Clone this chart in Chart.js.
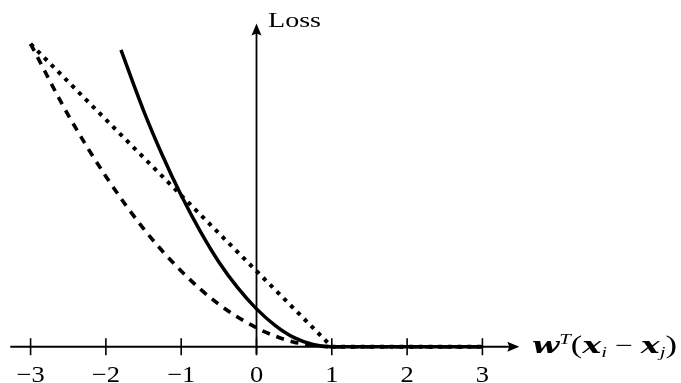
<!DOCTYPE html>
<html><head><meta charset="utf-8">
<script src="https://cdn.jsdelivr.net/npm/chart.js@4"></script>
<style>html,body{margin:0;padding:0;background:#fff;}#wrap{width:681px;height:383px;position:relative}</style>
</head><body><div id="wrap"><canvas id="c"></canvas></div>
<script>
// ---- data ----
const solidX  = [-1.8, -1.5, -1.25, -1, -0.75, -0.5, -0.25, 0, 0.25, 0.5, 0.75, 1, 2, 3];
const solidY  = [3.92, 3.12, 2.53, 2.0, 1.53, 1.12, 0.78, 0.5, 0.28, 0.12, 0.03, 0, 0, 0];
const dashedX = [-3, -2.5, -2, -1.5, -1, -0.5, 0, 0.25, 0.5, 0.75, 1, 2, 3];
const dashedY = [4.0, 3.06, 2.25, 1.56, 1.0, 0.56, 0.25, 0.14, 0.06, 0.02, 0, 0, 0];
const dottedX = [-3, -2, -1, 0, 1, 2, 3];
const dottedY = [4, 3, 2, 1, 0, 0, 0];
const tickValues = [-3, -2, -1, 0, 1, 2, 3];
const tickLabels = ['−3', '−2', '−1', '0', '1', '2', '3'];
const yAxisTitle = 'Loss';

const toPts = (xs, ys) => xs.map((v, i) => ({x: v, y: ys[i]}));

function arrowHead(ctx, tx, ty, dir) {
  const L = 12, W = 5;
  ctx.beginPath();
  if (dir === 'right') {
    ctx.moveTo(tx, ty); ctx.lineTo(tx - L, ty - W); ctx.lineTo(tx - L + 2, ty); ctx.lineTo(tx - L, ty + W);
  } else {
    ctx.moveTo(tx, ty); ctx.lineTo(tx - W, ty + L); ctx.lineTo(tx, ty + L - 2); ctx.lineTo(tx + W, ty + L);
  }
  ctx.closePath(); ctx.fill();
}

const axesPlugin = {
  id: 'axesPlugin',
  beforeDatasetsDraw(chart) {
    const {ctx, scales: {x, y}} = chart;
    const x0 = x.getPixelForValue(0), y0 = y.getPixelForValue(0);
    ctx.save();
    ctx.strokeStyle = '#000'; ctx.fillStyle = '#000'; ctx.lineWidth = 1.8;
    // x axis
    const xl = x.getPixelForValue(-3.27), xr = x.getPixelForValue(3.49);
    ctx.beginPath(); ctx.moveTo(xl, y0); ctx.lineTo(xr - 8, y0); ctx.stroke();
    arrowHead(ctx, xr, y0, 'right');
    // y axis
    const yb = y.getPixelForValue(-0.1), yt = y.getPixelForValue(4.27);
    ctx.beginPath(); ctx.moveTo(x0, yb); ctx.lineTo(x0, yt + 8); ctx.stroke();
    arrowHead(ctx, x0, yt, 'up');
    // ticks + labels
    ctx.lineWidth = 1.6;
    ctx.textAlign = 'center'; ctx.textBaseline = 'alphabetic';
    tickValues.forEach((v, i) => {
      const px = x.getPixelForValue(v);
      ctx.beginPath(); ctx.moveTo(px, y0 - 8.5); ctx.lineTo(px, y0 + 8.5); ctx.stroke();
      ctx.save();
      ctx.font = '23px "Liberation Serif"';
      ctx.translate(px, 382); ctx.scale(1.15, 1);
      ctx.fillText(tickLabels[i], 0, 0);
      ctx.restore();
    });
    // y axis title
    ctx.textAlign = 'left';
    ctx.font = '21px "Liberation Serif"';
    let w = ctx.measureText(yAxisTitle).width;
    ctx.save(); ctx.translate(268, 26.5); ctx.scale(53 / w, 1); ctx.fillText(yAxisTitle, 0, 0); ctx.restore();
    // x axis title: w^T(x_i - x_j)
    const parts = [
      {t: 'w', f: 'italic bold 23px "DejaVu Serif"', dy: 0},
      {t: 'T', f: 'italic 15px "Liberation Serif"', dy: -9},
      {t: '(', f: '25px "Liberation Serif"', dy: 0},
      {t: 'x', f: 'italic bold 23px "DejaVu Serif"', dy: 0},
      {t: 'i', f: 'italic 15px "Liberation Serif"', dy: 4},
      {t: ' − ', f: '23px "Liberation Serif"', dy: 0},
      {t: 'x', f: 'italic bold 23px "DejaVu Serif"', dy: 0},
      {t: 'j', f: 'italic 15px "Liberation Serif"', dy: 4},
      {t: ')', f: '25px "Liberation Serif"', dy: 0}
    ];
    let total = 0;
    parts.forEach(p => { ctx.font = p.f; p.w = ctx.measureText(p.t).width; total += p.w; });
    ctx.save(); ctx.translate(532, 353); ctx.scale(145 / total, 1);
    let cx = 0;
    parts.forEach(p => { ctx.font = p.f; ctx.fillText(p.t, cx, p.dy); cx += p.w; });
    ctx.restore();
    ctx.restore();
  }
};

new Chart(document.getElementById('c'), {
  type: 'line',
  data: {
    datasets: [
      {data: toPts(dashedX, dashedY), borderColor: '#000', borderWidth: 3.6, borderDash: [8, 7], cubicInterpolationMode: 'monotone', pointRadius: 0, fill: false},
      {data: toPts(dottedX, dottedY), borderColor: '#000', borderWidth: 4, borderDash: [4, 5.7], tension: 0, pointRadius: 0, fill: false},
      {data: toPts(solidX, solidY), borderColor: '#000', borderWidth: 3.5, cubicInterpolationMode: 'monotone', pointRadius: 0, fill: false}
    ]
  },
  options: {
    responsive: true, maintainAspectRatio: false, animation: false,
    layout: {padding: {left: 8, right: 164.7, top: 21.2, bottom: 2.2}},
    plugins: {legend: {display: false}, tooltip: {enabled: false}},
    scales: {
      x: {type: 'linear', min: -3.3, max: 3.45, display: false},
      y: {type: 'linear', min: -0.45, max: 4.3, display: false}
    },
    clip: false
  },
  plugins: [axesPlugin]
});
</script></body></html>
